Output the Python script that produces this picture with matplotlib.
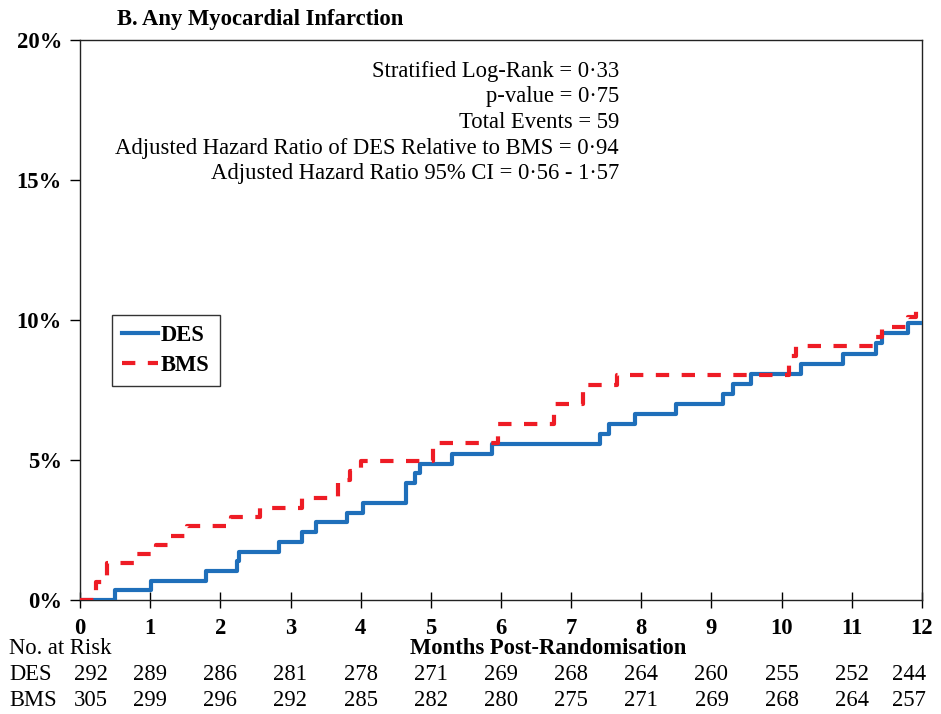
import matplotlib
matplotlib.use("Agg")
import matplotlib.pyplot as plt
import matplotlib.transforms as mtransforms

plt.rcParams['font.family'] = ['Liberation Serif', 'DejaVu Serif']

# ---- data ----
des_t = [0, 0.50, 1.01, 1.80, 2.24, 2.27, 2.83, 3.16, 3.37, 3.81, 4.04, 4.65, 4.77, 4.84,
         5.30, 5.87, 7.41, 7.54, 7.91, 8.49, 9.16, 9.31, 9.57, 10.27, 10.87, 11.34, 11.43,
         11.80, 12.0]
des_y = [0, 0.35, 0.69, 1.04, 1.38, 1.73, 2.08, 2.42, 2.77, 3.12, 3.47, 4.17, 4.52, 4.87,
         5.22, 5.57, 5.93, 6.28, 6.63, 6.99, 7.35, 7.72, 8.08, 8.44, 8.80, 9.17, 9.53,
         9.90, 9.90]
bms_t = [0, 0.23, 0.38, 0.80, 1.09, 1.27, 1.52, 2.15, 2.57, 3.16, 3.68, 3.85, 4.01, 5.03,
         5.96, 6.75, 7.17, 7.65, 10.11, 10.21, 11.33, 11.43, 11.80, 11.92, 12.0]
bms_y = [0, 0.66, 1.31, 1.64, 1.97, 2.30, 2.63, 2.97, 3.30, 3.63, 4.28, 4.61, 4.95, 5.62,
         6.30, 7.00, 7.67, 8.02, 8.72, 9.07, 9.40, 9.75, 10.12, 10.45, 10.45]

months = list(range(0, 13))
des_risk = [292, 289, 286, 281, 278, 271, 269, 268, 264, 260, 255, 252, 244]
bms_risk = [305, 299, 296, 292, 285, 282, 280, 275, 271, 269, 268, 264, 257]
y_ticks = [0, 5, 10, 15, 20]
y_labels = ["0%", "5%", "10%", "15%", "20%"]

stats_lines = [
    "Stratified Log-Rank = 0\u00b733",
    "p-value = 0\u00b775",
    "Total Events = 59",
    "Adjusted Hazard Ratio of DES Relative to BMS = 0\u00b794",
    "Adjusted Hazard Ratio 95% CI = 0\u00b756 - 1\u00b757",
]

BLUE = "#1f6fba"
RED = "#ee1c25"
FS = 16.3

W, H = 941, 714
fig = plt.figure(figsize=(W / 100, H / 100), dpi=100)
ax = fig.add_axes([80 / W, 1 - 600 / H, 842 / W, 560 / H])

ax.step(des_t, des_y, where='post', color=BLUE, lw=3.0, label='DES', zorder=3)
ax.step(bms_t, bms_y, where='post', color=RED, lw=3.0, dashes=(3.2, 3.0),
        label='BMS', zorder=4)

ax.set_xlim(0, 12)
ax.set_ylim(0, 20)
ax.set_xticks(months)
ax.set_xticklabels([str(m) for m in months], fontsize=FS, fontweight='bold')
ax.set_yticks(y_ticks)
ax.set_yticklabels(y_labels, fontsize=FS, fontweight='bold')
ax.tick_params(axis='x', direction='inout', length=12, width=1.0, pad=7)
ax.tick_params(axis='y', direction='out', length=7, width=1.0, pad=6)
for s in ax.spines.values():
    s.set_linewidth(1.0)
    s.set_color('#222222')

leg = ax.legend(loc='upper left', bbox_to_anchor=(0.038, 0.509), borderaxespad=0,
                frameon=True, fancybox=False, edgecolor='black', handlelength=1.6,
                handletextpad=0.1, borderpad=0.45, labelspacing=0.4,
                prop={'size': FS, 'weight': 'bold'})
leg.get_frame().set_linewidth(1.0)

# title
fig.text(117 / W, 1 - 19 / H, "B. Any Myocardial Infarction", fontsize=FS,
         fontweight='bold', ha='left', va='center')

# stats text
for i, line in enumerate(stats_lines):
    fig.text(619 / W, 1 - (71 + i * 25.7) / H, line, fontsize=FS, ha='right',
             va='center')

# risk table
fig.text(9 / W, 1 - 648 / H, "No. at Risk", fontsize=FS, ha='left', va='center')
fig.text(548 / W, 1 - 648 / H, "Months Post-Randomisation", fontsize=FS,
         fontweight='bold', ha='center', va='center')
fig.text(9 / W, 1 - 675 / H, "DES", fontsize=FS, ha='left', va='center')
fig.text(9 / W, 1 - 700 / H, "BMS", fontsize=FS, ha='left', va='center')
for i, m in enumerate(months):
    dx = 11 if i == 0 else (-13 if i == len(months) - 1 else 0)
    tr = mtransforms.blended_transform_factory(ax.transData, fig.transFigure) + \
        mtransforms.ScaledTranslation(dx / 100, 0, fig.dpi_scale_trans)
    fig.text(m, 1 - 675 / H, str(des_risk[i]), fontsize=FS, ha='center', va='center',
             transform=tr)
    fig.text(m, 1 - 700 / H, str(bms_risk[i]), fontsize=FS, ha='center', va='center',
             transform=tr)

fig.savefig("out.png", dpi=100)
